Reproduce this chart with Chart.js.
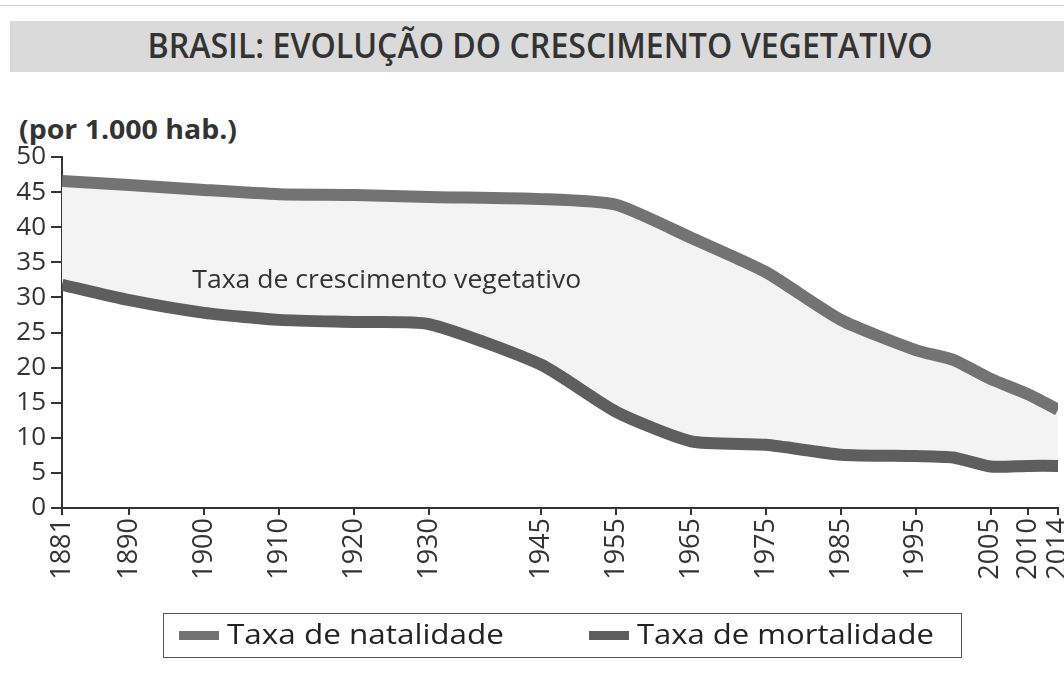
<!DOCTYPE html>
<html>
<head>
<meta charset="utf-8">
<script src="https://cdn.jsdelivr.net/npm/chart.js@4/dist/chart.umd.min.js"></script>
<style>
  body { margin: 0; background: #fff; }
  #wrap { position: relative; width: 1064px; height: 678px; }
  #topline { position: absolute; left: 0; top: 5px; width: 1064px; height: 1px; background: #cfcfcf; }
  #band { position: absolute; left: 10px; top: 21px; width: 1054px; height: 51px; background: #dadada; }
  #title { position: absolute; left: 0; top: 22px; width: 1080px; text-align: center; white-space: nowrap;
           font-family: "Open Sans", sans-serif; font-weight: 600; font-size: 34px; color: #333;
           transform-origin: 540px 50%; }
  #unit { position: absolute; left: 19px; top: 111px; font-family: "Open Sans", sans-serif;
          font-weight: 700; font-size: 26px; color: #333; white-space: nowrap; transform-origin: 0 50%; }
  #legend { position: absolute; left: 163px; top: 613px; width: 797px; height: 43px;
            border: 1.5px solid #555; box-sizing: content-box; }
  .sw { position: absolute; top: 17px; width: 40px; height: 9px; }
  .lt { position: absolute; top: 2px; font-family: "Open Sans", sans-serif; font-size: 27px; color: #222;
        white-space: nowrap; transform-origin: 0 50%; line-height: 36px; }
  canvas { position: absolute; left: 0; top: 0; }
</style>
</head>
<body>
<div id="wrap">
  <div id="topline"></div>
  <div id="band"></div>
  <div id="title">BRASIL: EVOLUÇÃO DO CRESCIMENTO VEGETATIVO</div>
  <div id="unit">(por 1.000 hab.)</div>
  <canvas id="c" width="1064" height="678"></canvas>
  <div id="legend"></div>
</div>
<script>
// anos com dados e anos mostrados no eixo
const years = [1881, 1890, 1900, 1910, 1920, 1930, 1945, 1955, 1965, 1975, 1985, 1995, 2000, 2005, 2010, 2014];
const tickYears = [1881, 1890, 1900, 1910, 1920, 1930, 1945, 1955, 1965, 1975, 1985, 1995, 2005, 2010, 2014];
const natalidade = [46.6, 46.0, 45.3, 44.7, 44.6, 44.3, 44.0, 43.2, 38.5, 33.6, 26.8, 22.5, 21.1, 18.4, 16.2, 14.0];
const mortalidade = [31.8, 29.6, 27.8, 26.8, 26.5, 26.2, 20.4, 13.7, 9.5, 9.0, 7.6, 7.4, 7.2, 5.9, 6.0, 6.0];
const seriesNames = ['Taxa de natalidade', 'Taxa de mortalidade'];
const seriesColors = ['#737373', '#5e5e5e'];
const areaLabel = 'Taxa de crescimento vegetativo';

function textWidth(font, txt) {
    const cx = document.createElement('canvas').getContext('2d');
    cx.font = font;
    return cx.measureText(txt).width;
}
// ajusta largura dos textos (fonte condensada no original)
function fitWidth(el, font, target) {
    el.style.transform = 'scaleX(' + (target / textWidth(font, el.textContent)) + ')';
}
fitWidth(document.getElementById('title'), '600 34px "Open Sans"', 785);
fitWidth(document.getElementById('unit'), '700 26px "Open Sans"', 218);

// legenda com caixa, como no original
const legendEl = document.getElementById('legend');
const legendX = [15, 425];
seriesNames.forEach((name, i) => {
    const sw = document.createElement('div');
    sw.className = 'sw';
    sw.style.left = legendX[i] + 'px';
    sw.style.background = seriesColors[i];
    legendEl.appendChild(sw);
    const lt = document.createElement('div');
    lt.className = 'lt';
    lt.style.left = (legendX[i] + 48) + 'px';
    lt.textContent = name;
    legendEl.appendChild(lt);
    fitWidth(lt, '27px "Open Sans"', i === 0 ? 277 : 297);
});

const areaText = {
    id: 'areaText',
    afterDatasetsDraw(chart) {
        const x = chart.scales.x.getPixelForValue(1898.4);
        const y = chart.scales.y.getPixelForValue(32.4);
        const ctx = chart.ctx;
        const font = '26px "Open Sans"';
        const k = 389 / textWidth(font, areaLabel);
        ctx.save();
        ctx.font = font;
        ctx.fillStyle = '#333';
        ctx.textBaseline = 'middle';
        ctx.translate(x, y);
        ctx.scale(k, 1);
        ctx.fillText(areaLabel, 0, 0);
        ctx.restore();
    }
};

const toPoints = vals => vals.map((v, i) => ({ x: years[i], y: v }));

new Chart(document.getElementById('c').getContext('2d'), {
    type: 'line',
    data: {
        datasets: [{
            label: seriesNames[0],
            data: toPoints(natalidade),
            borderColor: seriesColors[0],
            backgroundColor: '#f3f3f3',
            borderWidth: 12,
            pointRadius: 0,
            tension: 0.2,
            fill: '+1'
        }, {
            label: seriesNames[1],
            data: toPoints(mortalidade),
            borderColor: seriesColors[1],
            backgroundColor: seriesColors[1],
            borderWidth: 12,
            pointRadius: 0,
            tension: 0.2,
            fill: false
        }]
    },
    options: {
        responsive: false,
        animation: false,
        layout: { padding: { top: 157, left: 0, right: 6, bottom: 66 } },
        plugins: {
            legend: { display: false },
            tooltip: { enabled: false },
            filler: { drawTime: 'beforeDatasetsDraw' }
        },
        scales: {
            x: {
                type: 'linear',
                min: 1881,
                max: 2014,
                afterBuildTicks(scale) {
                    scale.ticks = tickYears.map(v => ({ value: v }));
                },
                afterFit(scale) {
                    scale.height = 104;
                    scale.paddingRight = 0;
                },
                ticks: {
                    autoSkip: false,
                    minRotation: 90,
                    maxRotation: 90,
                    padding: 3,
                    color: '#333',
                    font: { family: 'Open Sans', size: 27 },
                    callback: v => String(v)
                },
                grid: { drawOnChartArea: false, tickLength: 7, color: '#333', lineWidth: 2 },
                border: { color: '#333', width: 2 }
            },
            y: {
                min: 0,
                max: 50,
                afterFit(scale) { scale.width = 62; },
                ticks: {
                    stepSize: 5,
                    padding: 5,
                    color: '#333',
                    font: { family: 'Open Sans', size: 26 }
                },
                grid: { drawOnChartArea: false, tickLength: 11, color: '#333', lineWidth: 2 },
                border: { color: '#333', width: 2 }
            }
        }
    },
    plugins: [areaText]
});
</script>
</body>
</html>
